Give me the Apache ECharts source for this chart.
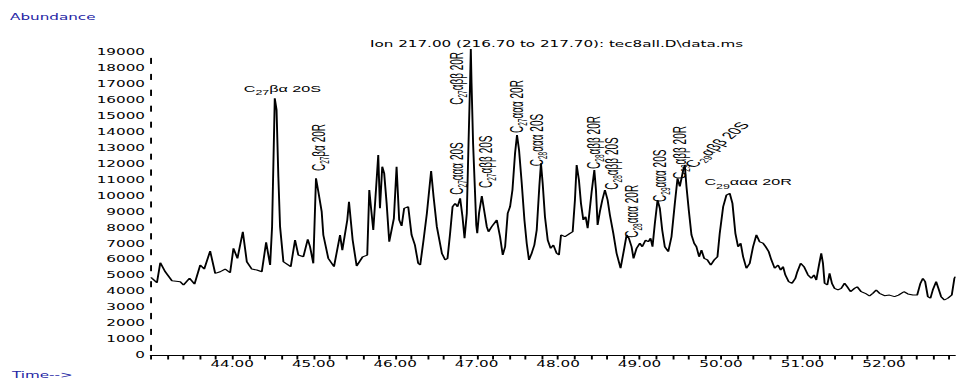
<!DOCTYPE html>
<html><head><meta charset="utf-8">
<script src="https://cdn.jsdelivr.net/npm/echarts@6/dist/echarts.min.js"></script>
<style>
html,body{margin:0;padding:0;background:#fff;overflow:hidden;width:956px;height:381px;}
#chart{width:503.158px;height:381px;transform:scaleX(1.9);transform-origin:0 0;}
</style></head><body><div id="chart"></div>
<script>
// ---- data (retention time in minutes, abundance) ----
const times = [
43.005,43.016,43.077,43.118,43.179,43.261,43.363,43.403,43.477,43.538,43.608,43.657,43.730,43.792,43.853,43.914,43.975,
44.016,44.065,44.131,44.180,44.241,44.303,44.364,44.417,44.466,44.490,44.523,44.545,44.567,44.588,44.629,44.719,44.772,44.812,44.874,44.928,44.956,44.996,
45.029,45.058,45.099,45.119,45.180,45.250,45.324,45.352,45.413,45.434,45.479,45.528,45.602,45.658,45.683,45.703,45.732,45.765,45.793,45.814,45.842,45.866,45.896,45.928,45.985,
46.018,46.050,46.080,46.111,46.161,46.202,46.243,46.283,46.308,46.349,46.390,46.442,46.472,46.512,46.574,46.614,46.643,46.675,46.705,46.737,46.766,46.798,46.827,46.852,46.880,46.901,46.920,46.929,46.938,46.957,46.978,46.996,
47.008,47.030,47.064,47.092,47.125,47.146,47.186,47.248,47.288,47.321,47.350,47.382,47.411,47.440,47.472,47.496,47.521,47.554,47.587,47.615,47.643,47.676,47.709,47.738,47.771,47.790,47.811,47.839,47.873,47.909,47.942,47.983,
48.011,48.036,48.084,48.146,48.179,48.207,48.228,48.256,48.281,48.310,48.338,48.363,48.384,48.412,48.445,48.465,48.485,48.513,48.543,48.575,48.608,48.636,48.678,48.718,48.767,48.812,48.841,48.869,48.902,48.926,48.963,
49.004,49.033,49.074,49.107,49.135,49.159,49.188,49.221,49.249,49.278,49.310,49.352,49.392,49.433,49.466,49.494,49.515,49.536,49.555,49.576,49.604,49.637,49.670,49.698,49.731,49.760,49.793,49.833,49.874,49.915,49.956,49.984,
50.026,50.066,50.107,50.140,50.176,50.209,50.241,50.271,50.311,50.352,50.393,50.434,50.474,50.516,50.548,50.585,50.618,50.658,50.700,50.732,50.761,50.789,50.830,50.871,50.912,50.936,50.977,
51.018,51.067,51.108,51.141,51.169,51.202,51.230,51.251,51.271,51.304,51.332,51.361,51.393,51.435,51.475,51.516,51.549,51.589,51.638,51.671,51.720,51.770,51.822,51.864,51.904,51.945,
52.006,52.067,52.129,52.178,52.244,52.293,52.354,52.407,52.447,52.477,52.505,52.538,52.570,52.599,52.640,52.668,52.701,52.741,52.783,52.832,52.864,52.876
];
const abundances = [
4900,4840,4560,5820,5250,4690,4630,4420,4840,4480,5670,5420,6550,5150,5250,5420,5190,
6720,6090,7760,5880,5420,5360,5250,7100,5670,8080,16130,15400,11210,8080,5880,5570,7240,6300,6190,7290,6820,5780,
11110,10270,9020,7560,6090,5570,7560,6610,8500,9640,7240,5610,6190,6300,10380,9330,7870,10380,12570,9230,11840,11420,9540,7130,8600,
11840,8500,8120,9230,9330,7560,6930,5780,5670,7240,8920,11570,9960,8080,6410,5990,6090,7660,9330,9540,9330,9860,8700,7350,8920,13300,17070,19220,17070,13300,10580,8180,
7660,8920,10000,9120,8080,7760,8080,8500,7450,6300,6820,8920,9330,10380,12680,13830,12890,10800,8500,7040,5990,6410,6930,7870,10690,12050,10800,8700,7240,6720,6930,6410,
6300,7560,7450,7660,7760,9750,11940,11000,9540,8500,8700,7980,8920,10270,11630,10380,8180,9020,9750,10380,9750,8810,7660,6410,5470,6720,7560,7350,6820,6090,6720,
7040,6820,7240,7130,7350,6820,8290,9750,9230,7870,6820,6510,7450,9540,11110,10600,11110,11630,11940,10580,9120,7560,7040,6820,6190,6610,6090,5990,5670,5990,6190,7660,
9330,10060,10170,9540,7660,6820,7040,6190,5470,5780,6820,7560,7130,7040,6820,6510,5990,5470,5670,5360,5570,5050,4630,4530,4840,5250,5780,
5570,5050,4840,5050,4730,5670,6410,5780,4530,4420,5150,4530,4210,4110,4210,4530,4310,4000,4210,4310,4000,3900,3730,3900,4110,3900,
3750,3790,3690,3790,4000,3860,3790,3790,4530,4840,4630,3690,3590,4110,4630,4210,3690,3480,3590,3790,4840,4940
];
// peak identification labels: [prefix, carbon-number subscript, suffix]
const peakLabels = [
['C','27','βα 20S'],['C','27','βα 20R'],['C','27','αββ 20R'],['C','27','ααα 20S'],['C','27','αββ 20S'],
['C','27','ααα 20R'],['C','28','ααα 20S'],['C','28','αββ 20R'],['C','28','αββ 20S'],['C','28','ααα 20R'],
['C','29','ααα 20S'],['C','29','αββ 20R'],['C','29','αββ 20S'],['C','29','ααα 20R']
];
const titleText = 'Ion 217.00 (216.70 to 217.70): tec8all.D\\data.ms';
const yAxisName = 'Abundance';
const xAxisName = 'Time-->';

// ---- label placement (time, abundance, rotation) - layout only ----
const labelPlacement = [
[44.617,16710,0],[45.056,13040,90],[46.748,17380,90],[46.750,11725,90],[47.102,12150,90],
[47.482,15610,90],[47.734,13510,90],[48.433,13355,90],[48.654,12040,90],[48.893,9040,90],
[49.243,11270,90],[49.488,12730,90],[49.945,13220,56],[50.333,10860,0]
];

const AX_FONT = 'DejaVu Sans';
const ANN_FONT = 'Liberation Sans';
const rich = {
  m:{fontSize:10,lineHeight:14,fontFamily:ANN_FONT,color:'#000',verticalAlign:'middle'},
  s:{fontSize:6.5,lineHeight:13,fontFamily:ANN_FONT,color:'#000',verticalAlign:'bottom'},
  hm:{fontSize:8.5,lineHeight:15,fontFamily:ANN_FONT,color:'#000',verticalAlign:'middle'},
  hs:{fontSize:6.5,lineHeight:10,fontFamily:ANN_FONT,color:'#000',verticalAlign:'bottom'}
};
const markData = peakLabels.map((p,i)=>{
  const pl = labelPlacement[i];
  const h = pl[2] === 0;
  const a = h ? 'hm' : 'm', b = h ? 'hs' : 's';
  return {
    coord:[pl[0], pl[1]],
    label:{show:true, position:'inside', rotate:pl[2], color:'#000', align:'center', verticalAlign:'middle',
      formatter:'{'+a+'|'+p[0]+'}{'+b+'|'+p[1]+'}{'+a+'|'+p[2]+'}', rich:rich}
  };
});

const chart = echarts.init(document.getElementById('chart'), null, {renderer:'svg'});
chart.setOption({
  animation:false,
  backgroundColor:'#fff',
  grid:{left:79.3, right:0, top:52.5, bottom:25.5, containLabel:false},
  xAxis:{
    type:'value', min:43, max:52.88, interval:1,
    axisLine:{show:true, lineStyle:{color:'#000', width:1}},
    axisTick:{show:true, length:4, lineStyle:{color:'#000', width:1}},
    minorTick:{show:true, splitNumber:5, length:4, lineStyle:{color:'#000', width:1}},
    splitLine:{show:false},
    axisLabel:{showMinLabel:false, showMaxLabel:false, margin:5, color:'#000', fontSize:8, fontFamily:AX_FONT,
      formatter:v=>v.toFixed(2)}
  },
  yAxis:{
    type:'value', min:0, max:19000, interval:1000,
    axisLine:{show:true, lineStyle:{color:'#000', width:1, type:[5.3,10.647], dashOffset:10.647}},
    axisTick:{show:false},
    splitLine:{show:false},
    axisLabel:{margin:3, color:'#000', fontSize:8, fontFamily:AX_FONT, formatter:v=>String(Math.round(v))}
  },
  graphic:[
    {type:'text', x:5.3, y:17.3, style:{text:yAxisName, fill:'#2424a4', fontSize:8, fontFamily:AX_FONT, verticalAlign:'middle'}},
    {type:'text', x:6.3, y:375.5, style:{text:xAxisName, fill:'#2424a4', fontSize:8, fontFamily:AX_FONT, verticalAlign:'middle'}},
    {type:'text', x:194.7, y:44.5, style:{text:titleText, fill:'#000', fontSize:8, fontFamily:AX_FONT, verticalAlign:'middle'}}
  ],
  series:[{
    type:'line', data:times.map((t,i)=>[t, abundances[i]]),
    showSymbol:false, symbol:'none', clip:false, smooth:false,
    lineStyle:{color:'#000', width:1},
    markPoint:{symbol:'circle', symbolSize:0, silent:true, itemStyle:{color:'rgba(0,0,0,0)'}, data:markData}
  }]
});
</script></body></html>
